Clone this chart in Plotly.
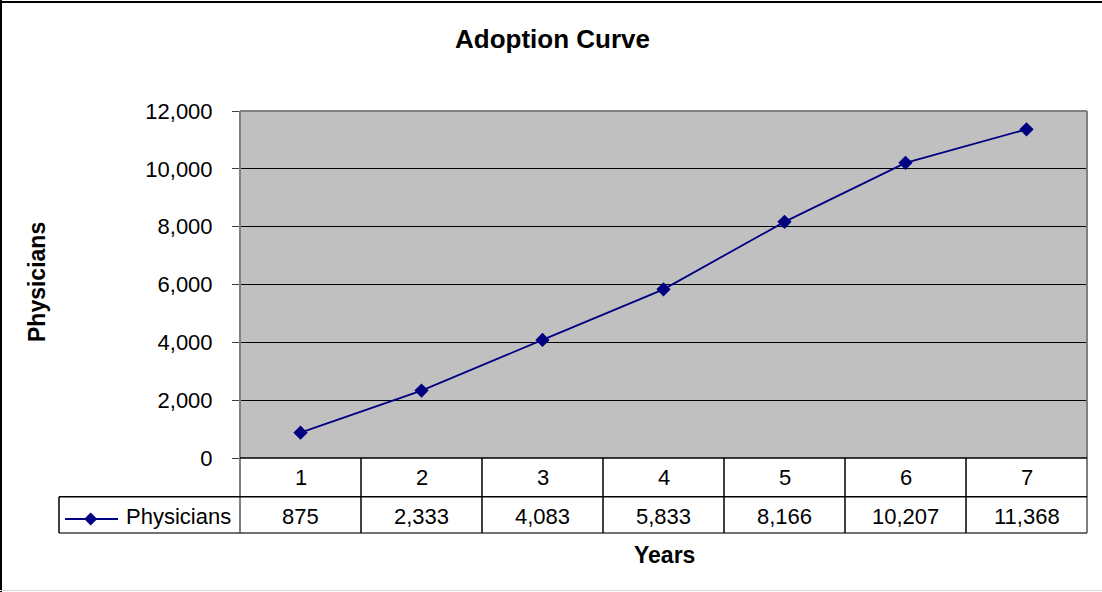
import plotly.graph_objects as go

# Adoption data
years = [1, 2, 3, 4, 5, 6, 7]
physicians = [875, 2333, 4083, 5833, 8166, 10207, 11368]
series_name = "Physicians"
y_ticks = [0, 2000, 4000, 6000, 8000, 10000, 12000]

W, H = 1102, 592
PL, PR, PT, PB = 240, 1087, 111, 458  # plot area in pixels
ROW1, ROW2 = 496.7, 533               # table row boundaries
LEG_X = 59                            # left edge of the legend cell
FONT = "Liberation Sans, Arial, sans-serif"
NAVY = "#000080"


def px(x):
    return (x - PL) / (PR - PL)


def py(y):
    return (PB - y) / (PB - PT)


fig = go.Figure()
fig.add_trace(go.Scatter(
    x=years, y=physicians, name=series_name, mode="lines+markers",
    line=dict(color=NAVY, width=1.8),
    marker=dict(symbol="diamond", size=11, color=NAVY),
    showlegend=False, hoverinfo="x+y",
))

shapes = []


def hline(x0, x1, y, color="black", width=1):
    shapes.append(dict(type="line", xref="paper", yref="paper",
                       x0=px(x0), x1=px(x1), y0=py(y), y1=py(y),
                       line=dict(color=color, width=width)))


def vline(x, y0, y1, color="black", width=1):
    shapes.append(dict(type="line", xref="paper", yref="paper",
                       x0=px(x), x1=px(x), y0=py(y0), y1=py(y1),
                       line=dict(color=color, width=width)))


# outer chart border
vline(1, 0, H, "black", 2)
hline(0, W, 2, "black", 2)
hline(0, W, 590.5, "#d8d8d8", 1)

# plot area frame
hline(PL, PR, PT, "#808080", 2)
vline(PL, PT, ROW2, "#808080", 2)
vline(PR, PT, ROW2, "#808080", 2)

# data table grid
col_w = (PR - PL) / len(years)
hline(PL, PR, PB, "black", 1.5)
hline(LEG_X, PR, ROW1, "black", 1.5)
hline(LEG_X, PR, ROW2, "#404040", 1.5)
vline(LEG_X, ROW1, ROW2, "black", 1.5)
for i in range(1, len(years)):
    vline(PL + col_w * i, PB, ROW2, "black", 1.5)

# legend key inside the table
key_y = 519
hline(65, 118, key_y, NAVY, 1.8)
d = 6.5
kx = 90.7
shapes.append(dict(
    type="path", xref="paper", yref="paper",
    path=(f"M {px(kx)} {py(key_y - d)} L {px(kx + d)} {py(key_y)} "
          f"L {px(kx)} {py(key_y + d)} L {px(kx - d)} {py(key_y)} Z"),
    fillcolor=NAVY, line=dict(color=NAVY, width=0),
))

annotations = []


def label(text, x, y, size=22, bold=False, angle=0, xanchor="center"):
    annotations.append(dict(
        text=f"<b>{text}</b>" if bold else text,
        xref="paper", yref="paper", x=px(x), y=py(y),
        xanchor=xanchor, yanchor="middle", showarrow=False,
        textangle=angle, font=dict(family=FONT, size=size, color="black"),
    ))


label("Adoption Curve", 552, 39, size=26, bold=True)
label("Physicians", 37, 282, size=23, bold=True, angle=-90)
label("Years", 664, 555, size=23, bold=True)
label(series_name, 124, 516, xanchor="left")

for i, (yr, val) in enumerate(zip(years, physicians)):
    cx = PL + col_w * (i + 0.5)
    label(str(yr), cx, 477)
    label(f"{val:,}", cx, 516)

fig.update_layout(
    width=W, height=H, autosize=False,
    margin=dict(l=PL, r=W - PR, t=PT, b=H - PB, pad=0),
    paper_bgcolor="white", plot_bgcolor="#c0c0c0",
    shapes=shapes, annotations=annotations,
    font=dict(family=FONT, size=22, color="black"),
    xaxis=dict(range=[0.5, len(years) + 0.5], showticklabels=False,
               showgrid=False, zeroline=False, ticks="", fixedrange=True),
    yaxis=dict(range=[0, 12000], tickvals=y_ticks, tickformat=",",
               ticks="outside", ticklen=7, tickcolor="#404040", tickwidth=1,
               ticklabelstandoff=15,
               showgrid=True, gridcolor="black", gridwidth=1,
               zeroline=False, showline=False,
               tickfont=dict(family=FONT, size=22, color="black"),
               fixedrange=True),
)

fig.write_html("out.html")
